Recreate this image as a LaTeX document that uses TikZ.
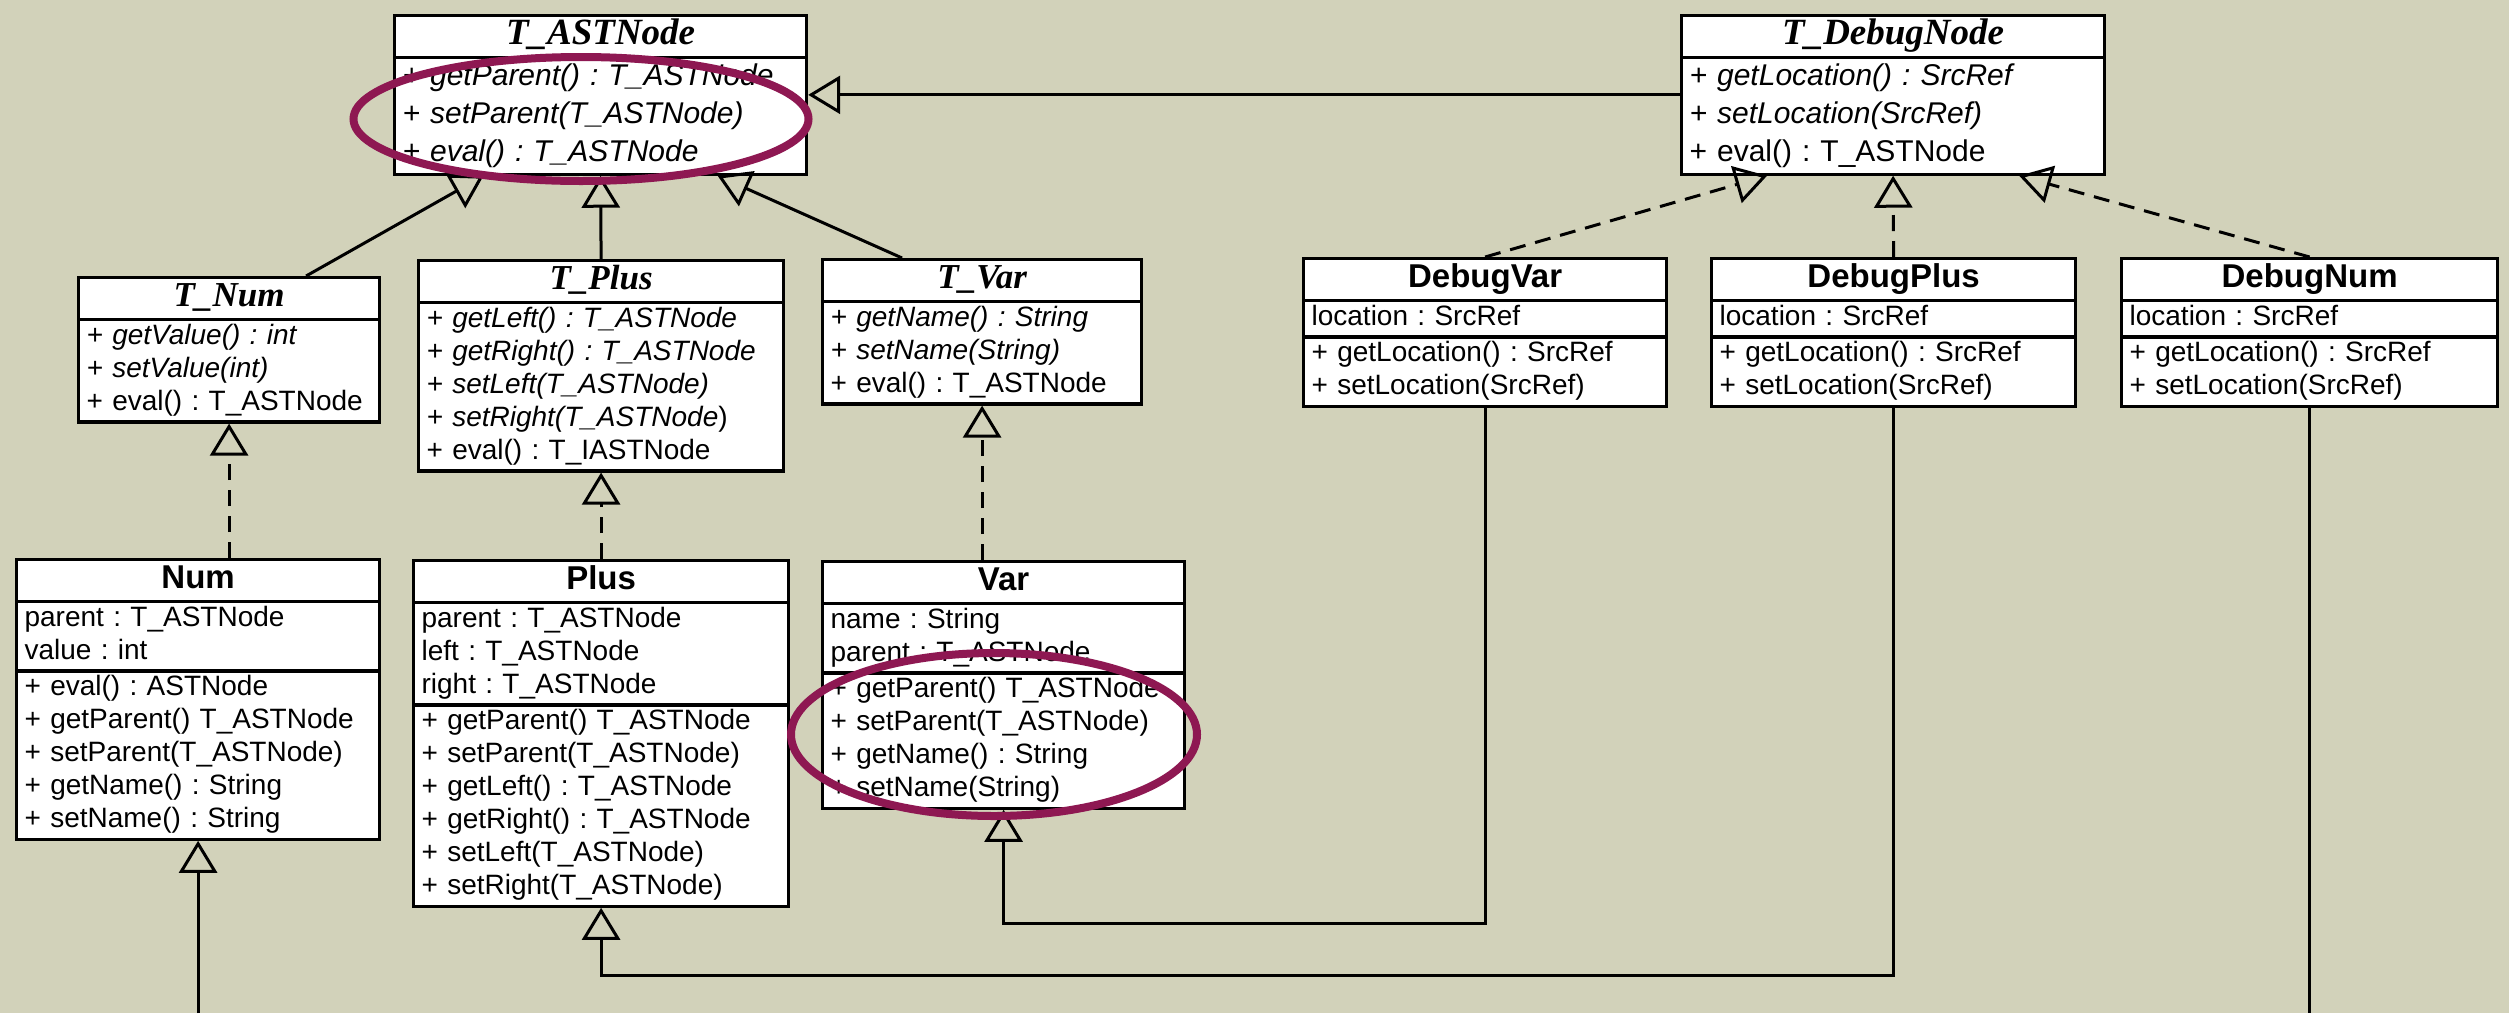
\documentclass[tikz,border=0pt]{standalone}
\usepackage{fontspec}
\setmainfont{Liberation Sans}
\newfontfamily\serifbold{Liberation Serif}
\usetikzlibrary{shapes.multipart,arrows.meta}
\frenchspacing

\definecolor{paper}{RGB}{210,210,186}
\definecolor{marker}{RGB}{142,24,82}

\newcommand\abstitle[2][17.5]{\hbox to\hsize{\hfil\fontsize{#1}{19.5}\serifbold\bfseries\itshape\strut #2\hfil}}
\newcommand\clstitle[1]{\hbox to\hsize{\hfil\fontsize{16.5}{19.5}\selectfont\bfseries\strut #1\hfil}}

\tikzset{
  uml/.style={rectangle split, rectangle split parts=3, draw, fill=white,
    line width=1.6pt, anchor=north west, inner xsep=4pt, inner ysep=0pt,
    align=left, font=\fontsize{14}{16.5}\selectfont},
  absuml/.style={uml, rectangle split parts=2},
  bigabs/.style={absuml, font=\fontsize{15}{18.85}\selectfont},
  inherit/.style={line width=1.5pt, -{Triangle[open,length=16pt,width=19pt,line width=1.5pt]}},
  realize/.style={inherit, dash pattern=on 8pt off 5pt},
  highlight/.style={draw=marker, line width=4pt}
}

\begin{document}
\begin{tikzpicture}[x=0.5pt,y=-0.5pt]

\path[use as bounding box, fill=paper] (0,0) rectangle (2509,1013);

% abstract types
\node[bigabs, text width=198pt] (tast) at (393,14) {\abstitle[18.5]{T\_ASTNode}
  \nodepart{two}\strut\textit{+ getParent() : T\_ASTNode}\\\strut\textit{+ setParent(T\_ASTNode)}\\\strut\textit{+ eval() : T\_ASTNode}};
\node[bigabs, text width=203.5pt] (tdbg) at (1680,14) {\abstitle[18.5]{T\_DebugNode}
  \nodepart{two}\strut\textit{+ getLocation() : SrcRef}\\\strut\textit{+ setLocation(SrcRef)}\\\strut + eval() : T\_ASTNode};
\node[absuml, text width=142.5pt] (tnum) at (77,276) {\abstitle{T\_Num}
  \nodepart{two}\strut\textit{+ getValue() : int}\\\strut\textit{+ setValue(int)}\\\strut + eval() : T\_ASTNode};
\node[absuml, text width=174.5pt] (tplus) at (417,259) {\abstitle{T\_Plus}
  \nodepart{two}\strut\textit{+ getLeft() : T\_ASTNode}\\\strut\textit{+ getRight() : T\_ASTNode}\\\strut\textit{+ setLeft(T\_ASTNode)}\\\strut\textit{+ setRight(T\_ASTNode})\\\strut + eval() : T\_IASTNode};
\node[absuml, text width=151.5pt] (tvar) at (821,258) {\abstitle{T\_Var}
  \nodepart{two}\strut\textit{+ getName() : String}\\\strut\textit{+ setName(String)}\\\strut + eval() : T\_ASTNode};

% concrete classes
\node[uml, text width=173.5pt] (num) at (15,558) {\clstitle{Num}
  \nodepart{two}\strut parent : T\_ASTNode\\\strut value : int
  \nodepart{three}\strut + eval() : ASTNode\\\strut + getParent() T\_ASTNode\\\strut + setParent(T\_ASTNode)\\\strut + getName() : String\\\strut + setName() : String};
\node[uml, text width=179.5pt] (plus) at (412,559) {\clstitle{Plus}
  \nodepart{two}\strut parent : T\_ASTNode\\\strut left : T\_ASTNode\\\strut right : T\_ASTNode
  \nodepart{three}\strut + getParent() T\_ASTNode\\\strut + setParent(T\_ASTNode)\\\strut + getLeft() : T\_ASTNode\\\strut + getRight() : T\_ASTNode\\\strut + setLeft(T\_ASTNode)\\\strut + setRight(T\_ASTNode)};
\node[uml, text width=173pt] (var) at (821,560) {\clstitle{Var}
  \nodepart{two}\strut name : String\\\strut parent : T\_ASTNode
  \nodepart{three}\strut + getParent() T\_ASTNode\\\strut + setParent(T\_ASTNode)\\\strut + getName() : String\\\strut + setName(String)};

% debug classes
\node[uml, text width=173.5pt] (dvar) at (1302,257) {\clstitle{DebugVar}
  \nodepart{two}\strut location : SrcRef
  \nodepart{three}\strut + getLocation() : SrcRef\\\strut + setLocation(SrcRef)};
\node[uml, text width=174pt] (dplus) at (1710,257) {\clstitle{DebugPlus}
  \nodepart{two}\strut location : SrcRef
  \nodepart{three}\strut + getLocation() : SrcRef\\\strut + setLocation(SrcRef)};
\node[uml, text width=180pt] (dnum) at (2120,257) {\clstitle{DebugNum}
  \nodepart{two}\strut location : SrcRef
  \nodepart{three}\strut + getLocation() : SrcRef\\\strut + setLocation(SrcRef)};

\coordinate (edge) at (0,1013);

% generalisation
\draw[inherit] (tdbg.west) -- (tast.east);
\draw[inherit] ([xshift=38.5pt]tnum.north) -- ([xshift=-58.5pt]tast.south);
\draw[inherit] (tplus.north) -- (tast.south);
\draw[inherit] ([xshift=-40pt]tvar.north) -- ([xshift=58.5pt]tast.south);

% realisation
\draw[realize] (num.north -| tnum.south) -- (tnum.south);
\draw[realize] (plus.north) -- (tplus.south);
\draw[realize] (var.north -| tvar.south) -- (tvar.south);
\draw[realize] (dvar.north) -- ([xshift=-63pt]tdbg.south);
\draw[realize] (dplus.north) -- (tdbg.south);
\draw[realize] (dnum.north) -- ([xshift=63pt]tdbg.south);

% debug subclasses
\draw[inherit] (dvar.south) |- ([yshift=-57pt]var.south) -- (var.south);
\draw[inherit] (dplus.south) |- ([yshift=-34pt]plus.south) -- (plus.south);
\draw[inherit] (num.south |- edge) -- (num.south);
\draw[line width=1.5pt] (dnum.south) -- (dnum.south |- edge);

% marked members
\draw[highlight] (581,119) ellipse [x radius=113.75pt, y radius=31pt];
\draw[highlight] (994,734.5) ellipse [x radius=101.5pt, y radius=40.75pt];

\end{tikzpicture}
\end{document}
